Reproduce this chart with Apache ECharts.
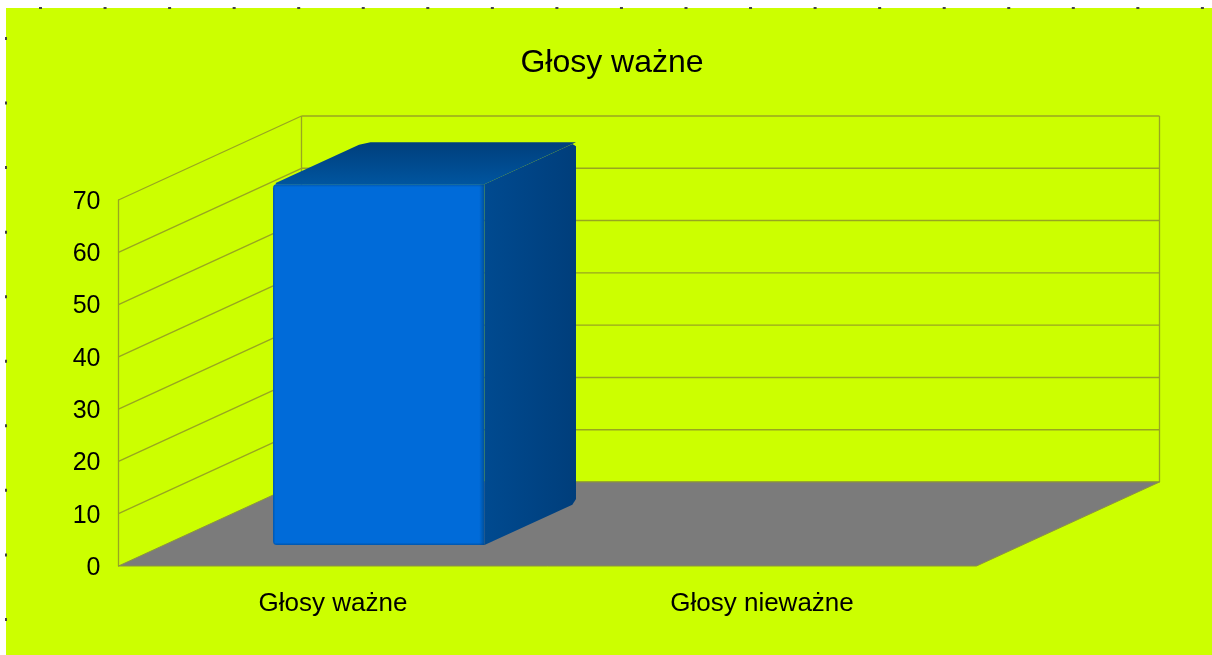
<!DOCTYPE html>
<html>
<head>
<meta charset="utf-8">
<title>Głosy ważne</title>
<style>
  html, body { margin: 0; padding: 0; background: #fff; }
  #chart { width: 1212px; height: 655px; }
</style>
<script src="https://cdn.jsdelivr.net/npm/echarts@6/dist/echarts.min.js"></script>
</head>
<body>
<div id="chart"></div>
<script>
var titleText = "Głosy ważne";
var categories = ["Głosy ważne", "Głosy nieważne"];
var votes = [69, 0];
var yTicks = [0, 10, 20, 30, 40, 50, 60, 70];

// fake 3d look, the axes stay ordinary 2d ones
var depthX = 183;
var depthY = 84;
var gapDepth = 0.25;
var barDepth = 0.5;
var barRatio = 0.493;
var wallColor = "#98a620";
var fontName = "Liberation Sans";

var myChart = echarts.init(document.getElementById("chart"));

// polygon with some corners cut (radii per point), looks like the rounded corners of the bar
function cutCorners(pts, radii) {
  var out = [];
  var n = pts.length;
  for (var i = 0; i < n; i++) {
    var p = pts[i], a = pts[(i + n - 1) % n], b = pts[(i + 1) % n], r = radii[i];
    if (!r) {
      out.push(p);
      continue;
    }
    var la = Math.hypot(a[0] - p[0], a[1] - p[1]);
    var lb = Math.hypot(b[0] - p[0], b[1] - p[1]);
    out.push([p[0] + (a[0] - p[0]) * r / la, p[1] + (a[1] - p[1]) * r / la]);
    out.push([p[0] + (b[0] - p[0]) * r / lb, p[1] + (b[1] - p[1]) * r / lb]);
  }
  return out;
}

function renderWall(params, api) {
  var box = params.coordSys;
  var y = api.coord([0, api.value(0)])[1];
  var left = box.x, right = box.x + box.width;
  var kids = [];
  if (api.value(0) !== 0) {
    kids.push({ type: "line", shape: { x1: left, y1: y, x2: left + depthX, y2: y - depthY },
      style: { stroke: wallColor, lineWidth: 1.3 } });
  }
  kids.push({ type: "line", shape: { x1: left + depthX, y1: y - depthY, x2: right + depthX, y2: y - depthY },
    style: { stroke: wallColor, lineWidth: 1.4 } });
  return { type: "group", children: kids };
}

function renderBackEdges(params) {
  var box = params.coordSys;
  var style = { stroke: wallColor, lineWidth: 1.3 };
  var bottom = box.y + box.height - depthY, top = box.y - depthY;
  return {
    type: "group",
    children: [
      { type: "line", shape: { x1: box.x + depthX, y1: top, x2: box.x + depthX, y2: bottom }, style: style },
      { type: "line", shape: { x1: box.x + box.width + depthX, y1: top, x2: box.x + box.width + depthX, y2: bottom }, style: style }
    ]
  };
}

function renderFloor(params) {
  var box = params.coordSys;
  var l = box.x, r = box.x + box.width, b = box.y + box.height;
  return {
    type: "polygon",
    shape: { points: [[l, b], [r, b], [r + depthX, b - depthY], [l + depthX, b - depthY]] },
    style: { fill: "#7b7b7b", stroke: "#8b9440", lineWidth: 1 }
  };
}

function renderBar(params, api) {
  if (!api.value(1)) return null; // nothing to see for 0
  var base = api.coord([api.value(0), 0]);
  var topY = api.coord([api.value(0), api.value(1)])[1];
  var w = api.size([1, 0])[0] * barRatio;
  var sx = depthX * gapDepth, sy = depthY * gapDepth;
  var dx = depthX * barDepth, dy = depthY * barDepth;
  var x0 = base[0] - w / 2 + sx, x1 = x0 + w;
  var y0 = base[1] - sy, y1 = topY - sy;
  var h = y0 - y1;
  return {
    type: "group",
    children: [
      {
        type: "polygon",
        shape: { points: cutCorners([[x0, y1], [x0 + dx, y1 - dy], [x1 + dx, y1 - dy], [x1, y1]], [3, 6, 0, 0]) },
        style: { fill: new echarts.graphic.LinearGradient(0, 0, 0, 1, [
          { offset: 0, color: "#003f7c" },
          { offset: 1, color: "#00559f" }
        ]) }
      },
      {
        type: "polygon",
        shape: { points: cutCorners([[x1, y1], [x1 + dx, y1 - dy], [x1 + dx, y0 - dy], [x1, y0]], [0, 4, 4, 0]) },
        style: { fill: new echarts.graphic.LinearGradient(0, 0, 1, 0, [
          { offset: 0, color: "#004a90" },
          { offset: 1, color: "#003e7b" }
        ]) }
      },
      {
        type: "rect",
        shape: { x: x0, y: y1, width: w, height: h, r: [4, 0, 0, 4] },
        style: { fill: new echarts.graphic.LinearGradient(0, 0, 1, 0, [
          { offset: 0, color: "#0057b0" },
          { offset: 0.012, color: "#006bd9" },
          { offset: 0.975, color: "#006bd9" },
          { offset: 1, color: "#004f9a" }
        ]) }
      },
      {
        type: "rect",
        shape: { x: x0, y: y1, width: w, height: h, r: [4, 0, 0, 4] },
        style: { fill: new echarts.graphic.LinearGradient(0, 0, 0, 1, [
          { offset: 0, color: "rgba(0,70,140,0.6)" },
          { offset: 0.008, color: "rgba(0,70,140,0)" },
          { offset: 0.993, color: "rgba(0,70,140,0)" },
          { offset: 1, color: "rgba(0,70,140,0.6)" }
        ]) }
      }
    ]
  };
}

// paper edge and the little marks along it
var paper = [{ type: "rect", z: -10, shape: { x: 6, y: 8, width: 1206, height: 647 }, style: { fill: "#ccff00" } }];
for (var i = 0; i < 19; i++) {
  paper.push({ type: "rect", z: 10, shape: { x: 39 + i * 64.55, y: 7, width: 3, height: 2 }, style: { fill: "#444" } });
}
for (var j = 0; j < 10; j++) {
  paper.push({ type: "rect", z: 10, shape: { x: 5, y: 37 + j * 64.55, width: 2, height: 3 }, style: { fill: "#444" } });
}

var option = {
  backgroundColor: "#ffffff",
  animation: false,
  title: {
    text: titleText,
    left: 607,
    top: 42,
    textAlign: "center",
    textStyle: { fontFamily: fontName, fontSize: 32, fontWeight: "normal", color: "#000" }
  },
  graphic: paper,
  grid: { left: 118.5, right: 235.5, top: 200, bottom: 89 },
  xAxis: {
    type: "category",
    data: categories,
    axisLine: { show: false },
    axisTick: { show: false },
    axisLabel: { fontFamily: fontName, fontSize: 26, color: "#000", margin: 25 }
  },
  yAxis: {
    type: "value",
    min: 0,
    max: 70,
    interval: 10,
    splitLine: { show: false },
    axisTick: { show: false },
    axisLine: { show: true, lineStyle: { color: wallColor, width: 1.3 } },
    axisLabel: {
      color: "#000",
      margin: 18,
      formatter: "{n|{value}}",
      rich: { n: { fontFamily: fontName, fontSize: 25, color: "#000", padding: [4, 0, 0, 0] } }
    }
  },
  series: [
    { type: "custom", name: "walls", clip: false, z: 1, data: yTicks.map(function (t) { return [t]; }), renderItem: renderWall, encode: { y: 0 } },
    { type: "custom", name: "edges", clip: false, z: 1, data: [[0]], renderItem: renderBackEdges },
    { type: "custom", name: "floor", clip: false, z: 2, data: [[0]], renderItem: renderFloor },
    {
      type: "custom",
      name: "Głosy",
      clip: false,
      z: 3,
      data: votes.map(function (v, i) { return [i, v]; }),
      encode: { x: 0, y: 1 },
      renderItem: renderBar
    }
  ]
};

myChart.setOption(option);
</script>
</body>
</html>
